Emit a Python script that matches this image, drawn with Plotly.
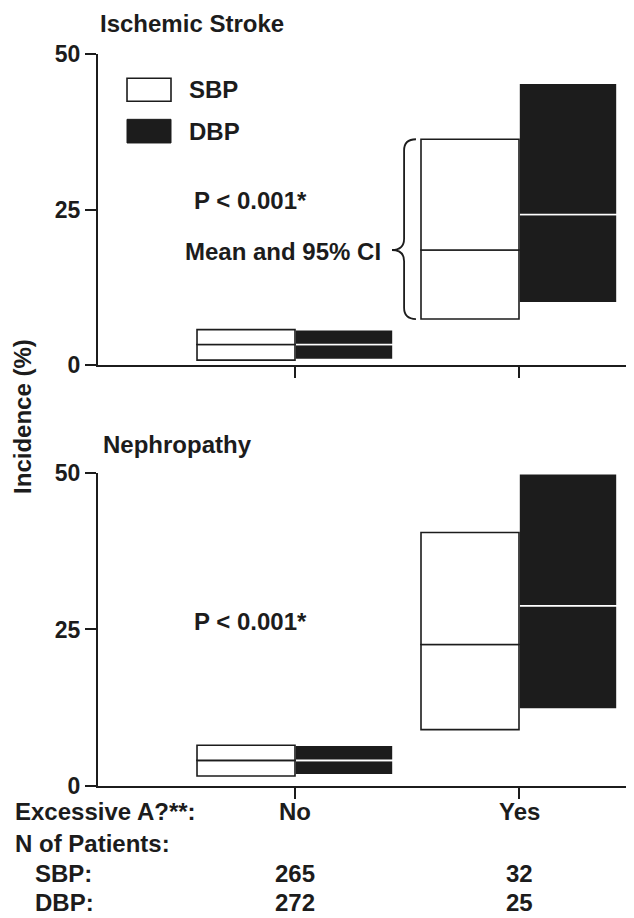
import plotly.graph_objects as go

# ---------------- data ----------------
categories = ["No", "Yes"]
cat_pos = [0, 1]

stroke_sbp_low = [0.8, 7.4]
stroke_sbp_mean = [3.3, 18.5]
stroke_sbp_high = [5.7, 36.3]
stroke_dbp_low = [0.9, 10.0]
stroke_dbp_mean = [3.3, 24.2]
stroke_dbp_high = [5.7, 45.3]

neph_sbp_low = [1.6, 9.0]
neph_sbp_mean = [4.1, 22.6]
neph_sbp_high = [6.5, 40.5]
neph_dbp_low = [1.8, 12.3]
neph_dbp_mean = [4.1, 28.8]
neph_dbp_high = [6.5, 49.9]

n_sbp = [265, 32]
n_dbp = [272, 25]

y_ticks = [0, 25, 50]

# ---------------- styling ----------------
FONT = "Liberation Sans, Arial, Helvetica, sans-serif"
FS = 24
TFS = 23
BLACK = "#1c1c1c"
W = 0.4375  # box width in category units

fig = go.Figure()


def add_boxes(low, mean, high, xa, ya, kind):
    if kind == "DBP":
        fill, edge, off = BLACK, "white", 0.0
    else:
        fill, edge, off = "white", BLACK, -W
    lower_h = [m - l for l, m in zip(low, mean)]
    upper_h = [h - m for m, h in zip(mean, high)]
    for base, hgt in ((low, lower_h), (mean, upper_h)):
        fig.add_trace(go.Bar(
            x=cat_pos, y=hgt, base=base, width=W, offset=off,
            marker=dict(color=fill, line=dict(color=edge, width=1.6)),
            xaxis=xa, yaxis=ya, showlegend=False, hoverinfo="skip",
        ))


# DBP drawn first so SBP black edges stay on top
add_boxes(stroke_dbp_low, stroke_dbp_mean, stroke_dbp_high, "x", "y", "DBP")
add_boxes(stroke_sbp_low, stroke_sbp_mean, stroke_sbp_high, "x", "y", "SBP")
add_boxes(neph_dbp_low, neph_dbp_mean, neph_dbp_high, "x2", "y2", "DBP")
add_boxes(neph_sbp_low, neph_sbp_mean, neph_sbp_high, "x2", "y2", "SBP")

x_range = [-0.8795, 1.5134]

axis_common = dict(
    showline=True, linecolor=BLACK, linewidth=2, showgrid=False, zeroline=False,
    ticks="outside", tickcolor=BLACK, tickwidth=1.6, ticklen=11,
)

fig.update_layout(
    width=626, height=910,
    margin=dict(l=90, r=0, t=46, b=132),
    paper_bgcolor="white", plot_bgcolor="white",
    barmode="overlay",
    showlegend=False,
    font=dict(family=FONT, size=FS, color=BLACK),
    xaxis=dict(domain=[0, 1], anchor="y", range=x_range, tickvals=cat_pos,
               showticklabels=False, **axis_common),
    yaxis=dict(domain=[0.575, 1], anchor="x", range=[0, 50], tickvals=y_ticks,
               tickfont=dict(family=FONT, size=TFS, color=BLACK, weight="bold"),
               **axis_common),
    xaxis2=dict(domain=[0, 1], anchor="y2", range=x_range, tickvals=cat_pos,
                showticklabels=False, **axis_common),
    yaxis2=dict(domain=[0, 0.4276], anchor="x2", range=[0, 50], tickvals=y_ticks,
                tickfont=dict(family=FONT, size=TFS, color=BLACK, weight="bold"),
                **axis_common),
)

# legend swatches (top panel)
fig.add_shape(type="rect", xref="x", yref="y", x0=-0.75, x1=-0.5536, y0=42.4, y1=46.1,
              fillcolor="white", line=dict(color=BLACK, width=1.6))
fig.add_shape(type="rect", xref="x", yref="y", x0=-0.75, x1=-0.5536, y0=35.7, y1=39.5,
              fillcolor=BLACK, line=dict(color=BLACK, width=1))

# curly brace spanning the SBP "Yes" CI
top, bot, mid = stroke_sbp_high[1], stroke_sbp_low[1], stroke_sbp_mean[1]
xe, xs, xt = 0.540, 0.487, 0.433
d = 1.8
brace = (f"M {xe},{top} Q {xs},{top} {xs},{top - d} L {xs},{mid + d} "
         f"Q {xs},{mid} {xt},{mid} Q {xs},{mid} {xs},{mid - d} "
         f"L {xs},{bot + d} Q {xs},{bot} {xe},{bot}")
fig.add_shape(type="path", xref="x", yref="y", path=brace,
              line=dict(color=BLACK, width=1.8))


def txt(text, x, y, xref, yref, xanchor="center", yanchor="middle", textangle=0):
    fig.add_annotation(text=f"<b>{text}</b>", x=x, y=y, xref=xref, yref=yref,
                       xanchor=xanchor, yanchor=yanchor, showarrow=False,
                       textangle=textangle,
                       font=dict(family=FONT, size=FS, color=BLACK))


# legend labels
txt("SBP", -0.482, 44.3, "x", "y", xanchor="left")
txt("DBP", -0.482, 37.6, "x", "y", xanchor="left")

# panel annotations
txt("P &lt; 0.001*", -0.20, 26.4, "x", "y")
txt("Mean and 95% CI", 0.395, 18.3, "x", "y", xanchor="right")
txt("P &lt; 0.001*", -0.20, 26.2, "x2", "y2")

# titles
txt("Ischemic Stroke", 0.0, 1.041, "paper", "paper", xanchor="left")
txt("Nephropathy", 0.005, 0.466, "paper", "paper", xanchor="left")

# y-axis title
txt("Incidence (%)", -0.14, 0.5055, "paper", "paper", textangle=-90)

# bottom table
row_y = [-0.0355, -0.0792, -0.1202, -0.1598]
txt("Excessive A?**:", -0.1586, row_y[0], "paper", "paper", xanchor="left")
txt("N of Patients:", -0.1586, row_y[1], "paper", "paper", xanchor="left")
txt("SBP:", -0.121, row_y[2], "paper", "paper", xanchor="left")
txt("DBP:", -0.121, row_y[3], "paper", "paper", xanchor="left")
for xp, cat, ns, nd in zip(cat_pos, categories, n_sbp, n_dbp):
    txt(cat, xp, row_y[0], "x2", "paper")
    txt(str(ns), xp, row_y[2], "x2", "paper")
    txt(str(nd), xp, row_y[3], "x2", "paper")

fig.write_html("out.html")
